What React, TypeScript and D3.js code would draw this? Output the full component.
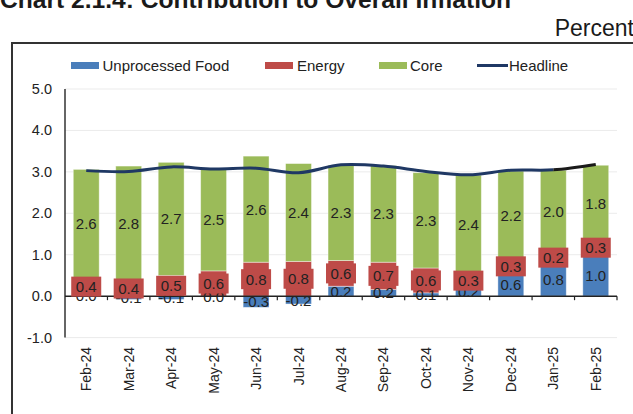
import React from "react";
import * as d3 from "d3";

const months = ["Feb-24","Mar-24","Apr-24","May-24","Jun-24","Jul-24","Aug-24","Sep-24","Oct-24","Nov-24","Dec-24","Jan-25","Feb-25"];
const food = [0.02,-0.08,-0.08,-0.02,-0.27,-0.19,0.24,0.16,0.08,0.21,0.58,0.82,1.02];
const energy = [0.42,0.37,0.5,0.61,0.82,0.84,0.62,0.66,0.6,0.33,0.28,0.22,0.3];
const core = [2.62,2.77,2.73,2.47,2.56,2.36,2.3,2.33,2.3,2.38,2.16,2.0,1.84];
const headline = [3.03,3.01,3.12,3.07,3.09,2.98,3.17,3.14,3.01,2.93,3.04,3.05,3.18];
const yTicks = [-1,0,1,2,3,4,5];
const seriesNames = ["Unprocessed Food","Energy","Core"];
const colors = ["#4a7ebb","#be4b48","#9bbb59"];
const navy = "#1f3864";

const fmt = (v: number) => (Math.abs(v) < 0.05 ? "0.0" : v.toFixed(1));

export default function App() {
  const W = 633, H = 414;
  const x = d3.scaleBand<string>().domain(months).range([65, 617]).paddingInner(0.39).paddingOuter(0.195);
  const y = d3.scaleLinear().domain([-1, 5]).range([337.6, 89]);
  const rows = months.map((m, i) => ({ m, food: food[i], energy: energy[i], core: core[i] }));
  const keys = ["food", "energy", "core"];
  const stacked = d3.stack<any>().keys(keys).offset(d3.stackOffsetDiverging)(rows);
  const cx = (m: string) => (x(m) as number) + x.bandwidth() / 2;
  const step = x.step();
  const bounds = months.map((m) => cx(m) - step / 2).concat([cx(months[months.length - 1]) + step / 2]);
  const line = d3.line<number>().x((_, i) => cx(months[i])).y((d) => y(d)).curve(d3.curveCatmullRom.alpha(0.5));
  const font = "'Liberation Sans', Arial, sans-serif";
  const jan = cx(months[11]);

  const legend = [
    { name: seriesNames[0], c: colors[0], sx: 71, tx: 102.5 },
    { name: seriesNames[1], c: colors[1], sx: 265, tx: 297 },
    { name: seriesNames[2], c: colors[2], sx: 379, tx: 410 },
  ];

  return (
    <svg width={W} height={H} style={{ position: "absolute", left: 0, top: 0, background: "#fff" }} fontFamily={font}>
      <defs>
        <clipPath id="after">
          <rect x={jan} y={0} width={W} height={H} />
        </clipPath>
        <clipPath id="before">
          <rect x={0} y={0} width={jan} height={H} />
        </clipPath>
      </defs>
      <text x={0} y={7.5} fontSize={24.6} fontWeight="bold" fill="#1a1a1a">Chart 2.1.4: Contribution to Overall Inflation</text>
      <text x={634} y={36} fontSize={23} textAnchor="end" fill="#1a1a1a">Percent</text>
      <rect x={12} y={43} width={640} height={400} fill="none" stroke="#333" strokeWidth={2} />

      {/* legend */}
      {legend.map((l) => (
        <g key={l.name}>
          <rect x={l.sx} y={62} width={28} height={7} fill={l.c} />
          <text x={l.tx} y={71} fontSize={15} fill="#222">{l.name}</text>
        </g>
      ))}
      <line x1={477} x2={508} y1={65.5} y2={65.5} stroke={navy} strokeWidth={3} />
      <text x={509} y={71} fontSize={15} fill="#222">Headline</text>

      {/* grid */}
      {yTicks.filter((t) => t !== 0).map((t) => (
        <line key={t} x1={65} x2={617} y1={y(t)} y2={y(t)} stroke="#ebebeb" strokeWidth={1} />
      ))}
      {yTicks.map((t) => (
        <text key={t} x={52} y={y(t) + 5} fontSize={14.5} textAnchor="end" fill="#222">{t.toFixed(1)}</text>
      ))}

      {/* bars */}
      {stacked.map((s, si) =>
        s.map((d, i) => (
          <rect key={si + "-" + i} x={x(months[i])} width={x.bandwidth()}
            y={y(Math.max(d[0], d[1]))} height={Math.abs(y(d[0]) - y(d[1]))}
            fill={colors[si]} stroke="#ffffff" strokeOpacity={0.5} strokeWidth={0.8} />
        ))
      )}

      {/* axes */}
      <line x1={65} x2={65} y1={y(5)} y2={y(-1)} stroke="#333" strokeWidth={1.5} />
      <line x1={65} x2={617} y1={y(0)} y2={y(0)} stroke="#222" strokeWidth={1.5} />
      {bounds.slice(1).map((b, i) => (
        <line key={i} x1={b} x2={b} y1={y(0)} y2={y(0) + 4} stroke="#222" strokeWidth={1.2} />
      ))}

      {/* food labels */}
      {stacked[0].map((d, i) => (
        <text key={"f" + i} x={cx(months[i])} y={y((d[0] + d[1]) / 2) + 5.5} fontSize={15} textAnchor="middle" fill="#222">{fmt(food[i])}</text>
      ))}
      {/* energy boxes */}
      {stacked[1].map((d, i) => {
        const c = y((d[0] + d[1]) / 2);
        return (
          <g key={"e" + i}>
            <rect x={cx(months[i]) - 15} y={c - 10} width={30} height={20} fill={colors[1]} />
            <text x={cx(months[i])} y={c + 5.5} fontSize={15} textAnchor="middle" fill="#222">{fmt(energy[i])}</text>
          </g>
        );
      })}
      {/* core labels */}
      {stacked[2].map((d, i) => (
        <text key={"c" + i} x={cx(months[i])} y={y((d[0] + d[1]) / 2) + 5.5} fontSize={15} textAnchor="middle" fill="#222">{fmt(core[i])}</text>
      ))}

      {/* headline */}
      <path d={line(headline) || ""} fill="none" stroke={navy} strokeWidth={3} clipPath="url(#before)" />
      <path d={line(headline) || ""} fill="none" stroke="#1a1a1a" strokeWidth={3} clipPath="url(#after)" />

      {/* x labels */}
      {months.map((m) => (
        <text key={m} transform={`translate(${cx(m) + 5},347) rotate(-90)`} fontSize={14} textAnchor="end" fill="#222">{m}</text>
      ))}
    </svg>
  );
}
